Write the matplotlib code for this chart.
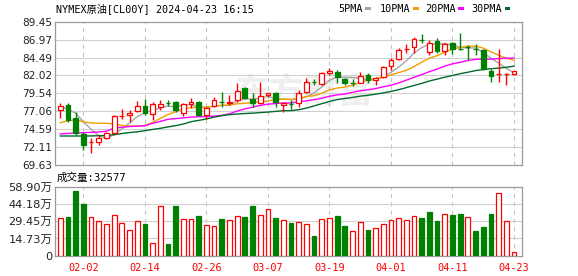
import matplotlib

matplotlib.use("Agg")
import matplotlib.pyplot as plt
from matplotlib.patches import Rectangle

# ---- data (NYMEX crude, daily) ----
opens = [77.20, 77.93, 76.09, 73.92, 72.78, 72.77, 73.41, 74.10, 76.42, 76.55,
         77.14, 77.79, 76.64, 77.61, 78.27, 78.38, 76.82, 78.03, 78.38, 76.55,
         77.79, 78.40, 78.22, 78.62, 80.24, 78.72, 78.16, 79.27, 79.63, 77.93,
         78.09, 78.25, 79.77, 81.17, 80.83, 82.40, 82.53, 81.52, 81.03, 81.01,
         82.08, 81.39, 81.84, 83.28, 84.25, 85.69, 85.91, 86.94, 85.26, 86.82,
         85.42, 86.50, 85.67, 85.97, 85.67, 85.53, 82.63, 82.19, 82.20, 82.19]
highs = [78.16, 78.25, 76.92, 74.24, 73.32, 73.78, 74.24, 76.55, 77.33, 77.24,
         78.48, 78.76, 78.38, 78.62, 78.62, 78.52, 78.16, 78.94, 78.52, 77.69,
         78.99, 79.68, 79.31, 80.93, 80.42, 79.55, 81.11, 79.60, 79.77, 78.38,
         78.62, 80.00, 81.62, 81.52, 82.45, 83.00, 82.77, 81.70, 81.48, 82.45,
         82.31, 81.84, 83.32, 84.39, 85.77, 86.32, 87.31, 87.78, 86.96, 87.15,
         86.46, 86.68, 87.84, 86.18, 86.30, 85.67, 82.84, 85.74, 82.31, 82.63]
lows = [76.09, 75.62, 73.78, 71.70, 71.33, 72.40, 73.23, 74.01, 75.95, 75.62,
        76.92, 76.55, 75.85, 77.24, 77.83, 76.92, 76.41, 77.47, 76.41, 75.95,
        77.69, 77.69, 77.93, 78.38, 78.72, 77.69, 78.07, 79.03, 77.69, 76.92,
        77.38, 77.69, 79.55, 80.69, 80.69, 82.08, 80.93, 80.69, 80.60, 80.93,
        80.93, 80.69, 81.62, 82.77, 84.15, 85.12, 85.08, 86.54, 84.88, 85.16,
        84.84, 84.98, 85.53, 84.22, 84.91, 82.77, 81.11, 81.15, 80.76, 82.01]
closes = [77.75, 75.85, 74.01, 72.40, 72.84, 73.41, 74.01, 76.41, 76.47, 76.86,
          77.79, 76.78, 78.03, 78.07, 78.23, 77.24, 78.03, 78.34, 76.55, 77.47,
          78.62, 78.36, 78.28, 79.86, 78.86, 78.21, 79.17, 79.55, 78.38, 78.25,
          78.05, 79.55, 81.07, 81.13, 82.31, 82.63, 81.76, 80.93, 81.00, 81.98,
          81.39, 81.62, 83.14, 84.15, 85.53, 85.74, 87.03, 86.90, 86.57, 85.40,
          86.34, 85.65, 85.63, 85.93, 85.63, 82.93, 81.94, 82.22, 82.24, 82.60]

# volume in 万 lots, and whether the bar is drawn red (up) or green (down)
volumes = [31.9, 33.0, 55.2, 44.1, 32.7, 29.3, 26.7, 34.4, 27.9, 21.9,
           29.3, 27.0, 10.5, 42.1, 10.0, 42.4, 31.0, 31.0, 33.9, 25.9,
           25.0, 31.0, 30.4, 33.6, 33.0, 42.4, 34.4, 39.5, 32.1, 30.4,
           27.9, 28.5, 26.7, 16.8, 31.0, 31.9, 33.9, 25.3, 21.1, 28.5,
           22.2, 23.3, 27.0, 30.2, 31.9, 30.4, 33.6, 32.1, 37.3, 29.6,
           35.3, 34.7, 35.6, 32.7, 21.1, 24.5, 35.6, 53.2, 29.6, 3.2577]
vol_up = [1, 0, 0, 0, 1, 1, 1, 1, 1, 1,
          1, 0, 1, 1, 0, 0, 1, 1, 0, 1,
          1, 0, 1, 1, 0, 0, 1, 1, 0, 1,
          0, 1, 1, 0, 1, 1, 0, 0, 1, 1,
          0, 1, 1, 1, 1, 1, 1, 0, 0, 0,
          1, 0, 0, 1, 0, 0, 0, 1, 1, 1]

ma5 = [77.70, 77.37, 76.78, 75.62, 74.57, 73.70, 73.33, 73.81, 74.63, 75.43,
       76.31, 76.86, 77.19, 77.51, 77.78, 77.67, 77.92, 77.98, 77.68, 77.53,
       77.80, 77.87, 77.86, 78.52, 78.80, 78.71, 78.88, 79.13, 78.83, 78.71,
       78.68, 78.76, 79.06, 79.61, 80.42, 81.34, 81.78, 81.75, 81.73, 81.66,
       81.41, 81.38, 81.83, 82.46, 83.17, 84.04, 85.12, 85.87, 86.35, 86.33,
       86.45, 86.17, 85.92, 85.79, 85.84, 85.15, 84.41, 83.73, 82.99, 82.39]
ma10 = [75.48, 75.75, 75.90, 75.60, 75.45, 75.40, 75.40, 75.30, 75.10, 75.00,
        75.01, 75.10, 75.50, 76.07, 76.61, 76.99, 77.39, 77.58, 77.59, 77.65,
        77.74, 77.89, 77.92, 78.10, 78.16, 78.26, 78.37, 78.49, 78.68, 78.75,
        78.70, 78.82, 79.10, 79.22, 79.57, 80.01, 80.27, 80.41, 80.67, 81.04,
        81.38, 81.58, 81.79, 82.09, 82.41, 82.72, 83.25, 83.85, 84.41, 84.75,
        85.24, 85.65, 85.89, 86.07, 86.08, 85.80, 85.29, 84.82, 84.39, 84.11]
ma20 = [73.92, 74.00, 74.05, 74.10, 74.15, 74.20, 74.30, 74.75, 74.85, 74.95,
        75.00, 75.05, 75.40, 75.65, 75.95, 76.05, 76.15, 76.25, 76.30, 76.33,
        76.38, 76.50, 76.71, 77.09, 77.39, 77.63, 77.88, 78.04, 78.14, 78.20,
        78.22, 78.36, 78.51, 78.66, 78.87, 79.14, 79.32, 79.45, 79.68, 79.90,
        80.04, 80.20, 80.45, 80.66, 80.99, 81.37, 81.76, 82.13, 82.54, 82.90,
        83.31, 83.62, 83.84, 84.08, 84.25, 84.26, 84.27, 84.34, 84.40, 84.43]
ma30 = [73.64, 73.64, 73.64, 73.64, 73.65, 73.68, 73.72, 73.82, 73.98, 74.12,
        74.22, 74.38, 74.55, 74.70, 74.90, 75.07, 75.30, 75.62, 75.80, 76.00,
        76.25, 76.45, 76.60, 76.68, 76.75, 76.80, 76.88, 76.95, 77.05, 77.14,
        77.15, 77.27, 77.50, 77.80, 78.11, 78.42, 78.68, 78.83, 78.98, 79.15,
        79.27, 79.43, 79.60, 79.80, 80.05, 80.33, 80.63, 80.92, 81.25, 81.51,
        81.77, 82.01, 82.26, 82.46, 82.69, 82.84, 82.94, 83.03, 83.15, 83.30]

price_ticks = [69.63, 72.11, 74.59, 77.06, 79.54, 82.02, 84.49, 86.97, 89.45]
vol_ticks = [0, 14.73, 29.45, 44.18, 58.90]
vol_tick_labels = ["0", "14.73万", "29.45万", "44.18万", "58.90万"]
date_idx = [3, 11, 19, 27, 35, 43, 51, 59]
date_labels = ["02-02", "02-14", "02-26", "03-07", "03-19", "04-01", "04-11", "04-23"]

title = "NYMEX原油[CL00Y] 2024-04-23 16:15"
legend = [("5PMA", "#a6a6a6"), ("10PMA", "#f0a000"),
          ("20PMA", "#ff00ff"), ("30PMA", "#006b2d")]
vol_text = "成交量:32577"

RED = "#ff0000"
GREEN = "#008000"
GRID = "#d0d0d0"
FRAME = "#9a9a9a"
MONO = ["DejaVu Sans Mono", "Noto Sans CJK SC"]
SANS = ["DejaVu Sans", "Noto Sans CJK SC"]

plt.rcParams["lines.scale_dashes"] = False

W, H = 578, 276
fig = plt.figure(figsize=(W / 100, H / 100), dpi=100)
ax = fig.add_axes([55 / W, 111 / H, 467 / W, 143.3 / H])
axv = fig.add_axes([55 / W, 20.3 / H, 467 / W, 69 / H])

n = len(closes)
xs = list(range(n))
bw = 0.62
xlim = (-0.69, 60.04)


def frame(a):
    for s in a.spines.values():
        s.set_color(FRAME)
        s.set_linewidth(0.9)
    a.tick_params(length=0, pad=2)
    a.set_xlim(*xlim)
    for i in date_idx:
        a.axvline(i, color="#c4c4c4", lw=0.8, ls=(0, (3, 3)), zorder=1)


# ---- price panel ----
frame(ax)
ax.set_ylim(price_ticks[0], price_ticks[-1])
ax.set_yticks(price_ticks)
ax.set_yticklabels([f"{t:.2f}" for t in price_ticks], family=SANS, fontsize=7.6, color="#222222")
ax.set_xticks([])
for t in price_ticks[1:-1]:
    ax.axhline(t, color=GRID, lw=0.8, zorder=1)

ax.text(235 / W, 1 - 93 / H, "东方财富", transform=fig.transFigure, family=SANS,
        fontsize=25, fontweight="bold", color="#efefef", va="center", ha="left", zorder=0.5)

for ma, (_, col) in zip([ma5, ma10, ma20, ma30], legend):
    ax.plot(xs, ma, color=col, lw=1.0, zorder=2)

for i in xs:
    o, h, l, c = opens[i], highs[i], lows[i], closes[i]
    up = c >= o
    col = RED if up else GREEN
    ax.vlines(i, l, h, color=col, lw=1.0, zorder=3)
    bot = min(o, c)
    hgt = max(abs(c - o), 0.015)
    ax.add_patch(Rectangle((i - bw / 2, bot), bw, hgt, facecolor="white" if up else GREEN,
                           edgecolor=col, lw=0.9, zorder=4))

# ---- volume panel ----
frame(axv)
axv.set_ylim(0, vol_ticks[-1])
axv.set_yticks(vol_ticks)
axv.set_yticklabels(vol_tick_labels, family=SANS, fontsize=8.2, color="#222222")
for t in vol_ticks[1:-1]:
    axv.axhline(t, color=GRID, lw=0.8, zorder=1)
for i in xs:
    up = vol_up[i]
    axv.add_patch(Rectangle((i - bw / 2, 0), bw, volumes[i],
                            facecolor="white" if up else GREEN,
                            edgecolor=RED if up else GREEN, lw=0.9, zorder=3))
axv.set_xticks(date_idx)
axv.set_xticklabels(date_labels, family=MONO, fontsize=7.4, color=RED)
axv.tick_params(axis="x", pad=5)

# ---- header texts ----
fig.text(56 / W, 1 - 8.5 / H, title, family=MONO, fontsize=7.3, va="center", ha="left")
fig.text(57 / W, 1 - 178 / H, vol_text, family=MONO, fontsize=7.6, va="center", ha="left")

text_x = [338, 380, 425.5, 471.5]
dash_x = [365, 413, 458, 504.5]
for (lab, col), tx, dx in zip(legend, text_x, dash_x):
    fig.text(tx / W, 1 - 8.5 / H, lab, family=MONO, fontsize=7.3, va="center", ha="left")
    fig.patches.append(Rectangle((dx / W, 1 - 9.8 / H), 5.5 / W, 3 / H, transform=fig.transFigure,
                                 facecolor=col, edgecolor="none"))

fig.savefig("out.png", dpi=100)
